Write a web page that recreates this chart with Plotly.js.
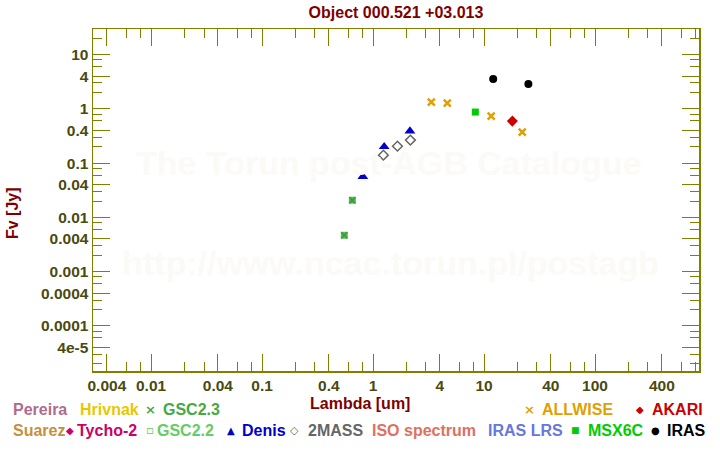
<!DOCTYPE html>
<html><head><meta charset="utf-8">
<script src="https://cdn.plot.ly/plotly-3.0.1.min.js"></script>
<style>body{margin:0;background:#fff}#chart{width:720px;height:450px}</style>
</head><body><div id="chart"></div>
<script>
// ---- data (wavelength in um, flux in Jy) ----
const gsc22Wave = [0.551, 0.651];
const gsc22Flux = [0.00468, 0.0207];
const gsc23Wave = [0.551, 0.651];
const gsc23Flux = [0.00468, 0.0207];
const denisWave = [0.81, 1.26, 2.15];
const denisFlux = [0.0564, 0.201, 0.389];
const massWave = [1.24, 1.66, 2.17];
const massFlux = [0.140, 0.205, 0.265];
const allwiseWave = [3.35, 4.67, 11.6, 22.1];
const allwiseFlux = [1.33, 1.27, 0.733, 0.372];
const msxWave = [8.35];
const msxFlux = [0.87];
const akariWave = [18.0];
const akariFlux = [0.593];
const irasWave = [12.1, 25.1];
const irasFlux = [3.53, 2.86];

const xTickVals = [0.004, 0.01, 0.04, 0.1, 0.4, 1, 4, 10, 40, 100, 400];
const xTickText = ["0.004", "0.01", "0.04", "0.1", "0.4", "1", "4", "10", "40", "100", "400"];
const yTickVals = [10, 4, 1, 0.4, 0.1, 0.04, 0.01, 0.004, 0.001, 0.0004, 0.0001, 0.00004];
const yTickText = ["10", "4", "1", "0.4", "0.1", "0.04", "0.01", "0.004", "0.001", "0.0004", "0.0001", "4e-5"];
const minorMult = [2, 3, 6, 8];

const legendNames = ["Pereira", "Hrivnak", "GSC2.3", "ALLWISE", "AKARI",
  "Suarez", "Tycho-2", "GSC2.2", "Denis", "2MASS", "ISO spectrum", "IRAS LRS", "MSX6C", "IRAS"];
const legendColors = ["#b06c8c", "#e6c800", "#44aa44", "#e0a000", "#cc0000",
  "#c49040", "#cc0066", "#66cc66", "#0000cc", "#666666", "#e07060", "#6677dd", "#00cc00", "#000000"];
const legendSymbols = ["", "", "×", "×", "◆", "", "◆", "▫", "▲", "◇", "", "", "■", "●"];

// ---- layout helpers (pixel -> paper) ----
const L = 93, R = 699, T = 29, B = 371;
const px = v => (v - L) / (R - L);
const py = v => (B - v) / (B - T);
function minorVals(lo, hi) {
  const out = [];
  for (let e = lo; e <= hi; e++) minorMult.forEach(m => out.push(m * Math.pow(10, e)));
  return out;
}
const FONT = "Liberation Sans, Arial, sans-serif";
const olive = "#808000";
const tickFont = {family: FONT, size: 15.5, color: "#4a4a10", weight: "bold"};

const traces = [
  {x: gsc22Wave, y: gsc22Flux, name: "GSC2.2", mode: "markers", type: "scatter",
   marker: {symbol: "square", size: 7, color: "#55bb55"}},
  {x: gsc23Wave, y: gsc23Flux, name: "GSC2.3", mode: "markers", type: "scatter",
   marker: {symbol: "x-thin-open", size: 6, color: "#3a9a3a", line: {color: "#3a9a3a", width: 1.5}}},
  {x: denisWave, y: denisFlux, name: "Denis", mode: "markers", type: "scatter",
   marker: {symbol: "triangle-up", size: 9.5, color: "#0000cc"}},
  {x: massWave, y: massFlux, name: "2MASS", mode: "markers", type: "scatter",
   marker: {symbol: "diamond-open", size: 7.5, color: "#666666", line: {color: "#666666", width: 1.5}}},
  {x: allwiseWave, y: allwiseFlux, name: "ALLWISE", mode: "markers", type: "scatter",
   marker: {symbol: "x-thin-open", size: 7, color: "#e0a000", line: {color: "#e0a000", width: 2.5}}},
  {x: msxWave, y: msxFlux, name: "MSX6C", mode: "markers", type: "scatter",
   marker: {symbol: "square", size: 7, color: "#00cc00"}},
  {x: akariWave, y: akariFlux, name: "AKARI", mode: "markers", type: "scatter",
   marker: {symbol: "diamond", size: 8.5, color: "#cc0000"}},
  {x: irasWave, y: irasFlux, name: "IRAS", mode: "markers", type: "scatter",
   marker: {symbol: "circle", size: 8, color: "#000000"}}
];

const ann = [];
function addText(x, y, text, font, extra) {
  ann.push(Object.assign({xref: "paper", yref: "paper", x: px(x), y: py(y), text: text, showarrow: false,
    xanchor: "center", yanchor: "middle", font: font}, extra || {}));
}
// watermarks
const wmFont = {family: FONT, size: 34, color: "#fbfaf6", weight: "bold"};
addText(389, 163, "The Torun post-AGB Catalogue", wmFont);
addText(390, 263, "http://www.ncac.torun.pl/postagb", wmFont);
// axis titles
const titleFont = {family: FONT, size: 16, color: "#800000", weight: "bold"};
addText(360, 403, "Lambda [um]", titleFont);
addText(12, 213, "Fv [Jy]", titleFont, {textangle: -90});

// legend (symbol x, text start x, row y)
const legSymX = [null, null, 150, 529, 640, null, 70, 150, 231, 294, null, null, 575, 655];
const legTextX = [11, 78, 161, 540, 650, 11, 75, 155, 240, 306, 370, 486, 586, 665];
const legRowY = [409, 409, 409, 409, 409, 430, 430, 430, 430, 430, 430, 430, 430, 430];
const symSize = {"×": 13, "◆": 10, "▫": 12, "▲": 10, "◇": 11, "■": 9, "●": 10};
legendNames.forEach((n, i) => {
  if (legendSymbols[i]) {
    addText(legSymX[i], legRowY[i], legendSymbols[i],
      {family: "DejaVu Sans, sans-serif", size: symSize[legendSymbols[i]], color: legendColors[i], weight: "bold"});
  }
  addText(legTextX[i], legRowY[i], n, {family: FONT, size: 16, color: legendColors[i], weight: "bold"},
    {xanchor: "left"});
});

const axisCommon = {
  type: "log", showline: true, linecolor: olive, linewidth: 1.5, mirror: "ticks",
  ticks: "inside", ticklen: 17, tickwidth: 1, tickcolor: olive, showgrid: false, zeroline: false,
  tickmode: "array", tickfont: tickFont
};

const layout = {
  width: 720, height: 450, paper_bgcolor: "#fff", plot_bgcolor: "#fff",
  margin: {l: L, r: 720 - R, t: T, b: 450 - B, pad: 0},
  showlegend: false,
  title: {text: "Object 000.521 +03.013", x: 0.5, xref: "paper", xanchor: "center", y: 1 - 12 / 450, yanchor: "middle",
    font: {family: FONT, size: 16, color: "#800000", weight: "bold"}},
  xaxis: Object.assign({}, axisCommon, {
    range: [-2.523, 2.937], tickvals: xTickVals, ticktext: xTickText,
    minor: {tickmode: "array", tickvals: minorVals(-3, 2), ticklen: 9, tickwidth: 1, tickcolor: olive, ticks: "inside"}
  }),
  yaxis: Object.assign({}, axisCommon, {
    range: [-4.83, 1.47], tickvals: yTickVals, ticktext: yTickText,
    minor: {tickmode: "array", tickvals: minorVals(-5, 1), ticklen: 9, tickwidth: 1, tickcolor: olive, ticks: "inside"}
  }),
  annotations: ann
};

Plotly.newPlot("chart", traces, layout, {staticPlot: true, displayModeBar: false});
</script></body></html>
